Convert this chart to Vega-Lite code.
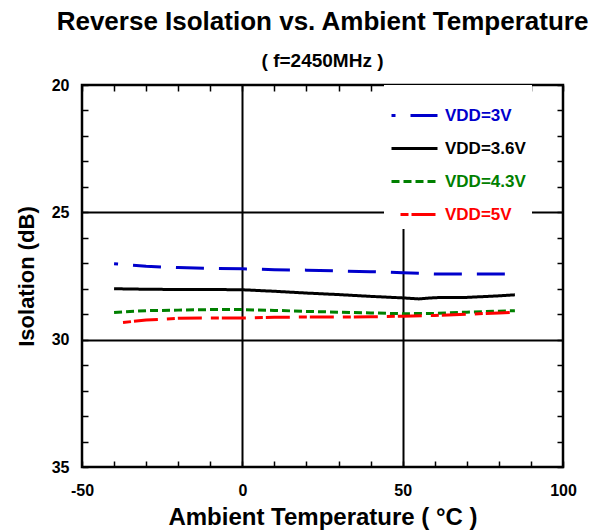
{
  "$schema": "https://vega.github.io/schema/vega-lite/v6.json",
  "autosize": "none",
  "width": 481,
  "height": 382,
  "padding": {"left": 82, "top": 85, "right": 35, "bottom": 64},
  "background": "white",
  "title": {
    "text": "Reverse Isolation vs. Ambient Temperature",
    "subtitle": "( f=2450MHz )",
    "font": "Liberation Sans",
    "subtitleFont": "Liberation Sans",
    "fontSize": 26,
    "subtitleFontSize": 19,
    "fontWeight": "bold",
    "subtitleFontWeight": "bold",
    "color": "black",
    "subtitleColor": "black",
    "anchor": "middle",
    "offset": 6,
    "subtitlePadding": 17
  },
  "config": {
    "view": {"stroke": "black", "strokeWidth": 2.5},
    "legend": {
      "orient": "none",
      "legendX": 302,
      "legendY": 0,
      "padding": 6,
      "fillColor": "white",
      "strokeColor": null,
      "symbolType": "stroke",
      "symbolSize": 2116,
      "symbolStrokeWidth": 3,
      "symbolDashOffset": 24,
      "labelFont": "Liberation Sans",
      "labelFontSize": 17,
      "labelFontWeight": "bold",
      "labelOffset": 6,
      "rowPadding": -7,
      "labelLimit": 200
    }
  },
  "data": {
    "values": [
      {"series": "3V", "temp": -40, "iso": 27.02},
      {"series": "3V", "temp": -30, "iso": 27.12},
      {"series": "3V", "temp": -20, "iso": 27.17},
      {"series": "3V", "temp": -10, "iso": 27.2},
      {"series": "3V", "temp": 0, "iso": 27.22},
      {"series": "3V", "temp": 10, "iso": 27.25},
      {"series": "3V", "temp": 20, "iso": 27.27},
      {"series": "3V", "temp": 30, "iso": 27.3},
      {"series": "3V", "temp": 40, "iso": 27.33},
      {"series": "3V", "temp": 50, "iso": 27.37},
      {"series": "3V", "temp": 60, "iso": 27.42},
      {"series": "3V", "temp": 70, "iso": 27.42},
      {"series": "3V", "temp": 80, "iso": 27.42},
      {"series": "3V", "temp": 85, "iso": 27.42},
      {"series": "3.6V", "temp": -40, "iso": 28.0},
      {"series": "3.6V", "temp": -30, "iso": 28.02},
      {"series": "3.6V", "temp": -20, "iso": 28.03},
      {"series": "3.6V", "temp": -10, "iso": 28.03},
      {"series": "3.6V", "temp": 0, "iso": 28.04},
      {"series": "3.6V", "temp": 10, "iso": 28.1},
      {"series": "3.6V", "temp": 20, "iso": 28.17},
      {"series": "3.6V", "temp": 30, "iso": 28.23},
      {"series": "3.6V", "temp": 40, "iso": 28.3},
      {"series": "3.6V", "temp": 50, "iso": 28.36},
      {"series": "3.6V", "temp": 55, "iso": 28.4},
      {"series": "3.6V", "temp": 60, "iso": 28.35},
      {"series": "3.6V", "temp": 70, "iso": 28.34},
      {"series": "3.6V", "temp": 80, "iso": 28.28},
      {"series": "3.6V", "temp": 85, "iso": 28.24},
      {"series": "4.3V", "temp": -40, "iso": 28.93},
      {"series": "4.3V", "temp": -30, "iso": 28.86},
      {"series": "4.3V", "temp": -20, "iso": 28.84},
      {"series": "4.3V", "temp": -10, "iso": 28.82},
      {"series": "4.3V", "temp": 0, "iso": 28.82},
      {"series": "4.3V", "temp": 10, "iso": 28.85},
      {"series": "4.3V", "temp": 20, "iso": 28.89},
      {"series": "4.3V", "temp": 30, "iso": 28.92},
      {"series": "4.3V", "temp": 40, "iso": 28.95},
      {"series": "4.3V", "temp": 50, "iso": 28.98},
      {"series": "4.3V", "temp": 60, "iso": 28.97},
      {"series": "4.3V", "temp": 70, "iso": 28.92},
      {"series": "4.3V", "temp": 80, "iso": 28.88},
      {"series": "4.3V", "temp": 85, "iso": 28.86},
      {"series": "5V", "temp": -40, "iso": 29.36},
      {"series": "5V", "temp": -30, "iso": 29.23},
      {"series": "5V", "temp": -20, "iso": 29.16},
      {"series": "5V", "temp": -10, "iso": 29.15},
      {"series": "5V", "temp": 0, "iso": 29.15},
      {"series": "5V", "temp": 10, "iso": 29.12},
      {"series": "5V", "temp": 20, "iso": 29.11},
      {"series": "5V", "temp": 30, "iso": 29.11},
      {"series": "5V", "temp": 40, "iso": 29.1},
      {"series": "5V", "temp": 50, "iso": 29.08},
      {"series": "5V", "temp": 60, "iso": 29.05},
      {"series": "5V", "temp": 70, "iso": 29.0},
      {"series": "5V", "temp": 80, "iso": 28.95},
      {"series": "5V", "temp": 85, "iso": 28.92}
    ]
  },
  "resolve": {"axis": {"x": "independent", "y": "independent"}},
  "layer": [
    {
      "mark": {"type": "line", "strokeWidth": 3, "strokeDashOffset": 24, "clip": true},
      "encoding": {
        "x": {
          "field": "temp", "type": "quantitative",
          "scale": {"domain": [-50, 100], "nice": false, "zero": false},
          "axis": {
            "orient": "bottom",
            "values": [-50, -40, -30, -20, -10, 0, 10, 20, 30, 40, 50, 60, 70, 80, 90, 100],
            "labelExpr": "datum.value % 50 === 0 ? '' + datum.value : ''",
            "labelOverlap": false,
            "labelFlush": false,
            "domain": false,
            "ticks": true,
            "tickSize": -6,
            "tickWidth": 1.5,
            "tickColor": "black",
            "grid": true,
            "gridColor": "black",
            "gridWidth": 2,
            "gridOpacity": {"condition": {"test": "datum.value === 0 || datum.value === 50", "value": 1}, "value": 0},
            "labelFont": "Liberation Sans",
            "labelFontSize": 16,
            "labelFontWeight": "bold",
            "labelColor": "black",
            "labelPadding": 21,
            "title": "Ambient Temperature ( °C )",
            "titleFont": "Liberation Sans",
            "titleFontSize": 24,
            "titleFontWeight": "bold",
            "titleColor": "black",
            "titlePadding": 7
          }
        },
        "y": {
          "field": "iso", "type": "quantitative",
          "scale": {"domain": [20, 35], "nice": false, "zero": false, "reverse": true},
          "axis": {
            "orient": "left",
            "values": [20, 21, 22, 23, 24, 25, 26, 27, 28, 29, 30, 31, 32, 33, 34, 35],
            "labelExpr": "datum.value % 5 === 0 ? datum.label : ''",
            "labelOverlap": false,
            "labelFlush": false,
            "domain": false,
            "tickSize": -6,
            "tickWidth": 1.5,
            "tickColor": "black",
            "grid": true,
            "gridColor": "black",
            "gridWidth": 2,
            "gridOpacity": {"condition": {"test": "datum.value === 25 || datum.value === 30", "value": 1}, "value": 0},
            "labelFont": "Liberation Sans",
            "labelFontSize": 16,
            "labelFontWeight": "bold",
            "labelColor": "black",
            "labelPadding": 19,
            "title": "Isolation (dB)",
            "titleFont": "Liberation Sans",
            "titleFontSize": 22,
            "titleFontWeight": "bold",
            "titleColor": "black",
            "titlePadding": 13
          }
        },
        "color": {
          "field": "series", "type": "nominal",
          "scale": {"domain": ["3V", "3.6V", "4.3V", "5V"], "range": ["#0000cc", "#000000", "#008000", "#ff0000"]},
          "legend": {
            "title": null,
            "labelExpr": "'VDD=' + datum.label",
            "encoding": {"labels": {"fill": {"value": {"expr": "scale('color', datum.value)"}}}}
          }
        },
        "strokeDash": {
          "field": "series", "type": "nominal",
          "scale": {"domain": ["3V", "3.6V", "4.3V", "5V"], "range": [[28, 15], [1, 0], [8, 4], [24, 9, 8, 3]]},
          "legend": {
            "title": null,
            "labelExpr": "'VDD=' + datum.label",
            "encoding": {"labels": {"fill": {"value": {"expr": "scale('color', datum.value)"}}}}
          }
        }
      }
    },
    {
      "mark": {"type": "point", "opacity": 0},
      "encoding": {
        "x": {
          "field": "temp", "type": "quantitative",
          "axis": {
            "orient": "top",
            "values": [-50, -40, -30, -20, -10, 0, 10, 20, 30, 40, 50, 60, 70, 80, 90, 100],
            "labels": false,
            "domain": false,
            "grid": false,
            "tickSize": -6,
            "tickWidth": 1.5,
            "tickColor": "black",
            "title": null
          }
        },
        "y": {
          "field": "iso", "type": "quantitative",
          "axis": {
            "orient": "right",
            "values": [20, 21, 22, 23, 24, 25, 26, 27, 28, 29, 30, 31, 32, 33, 34, 35],
            "labels": false,
            "domain": false,
            "grid": false,
            "tickSize": -6,
            "tickWidth": 1.5,
            "tickColor": "black",
            "title": null
          }
        }
      }
    }
  ]
}
